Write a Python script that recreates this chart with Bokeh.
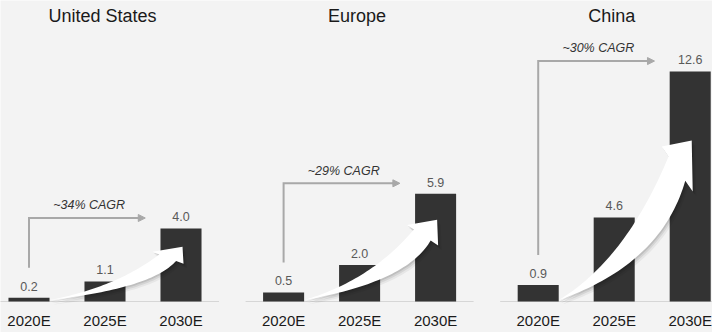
import numpy as np
from bokeh.plotting import figure
from bokeh.models import ColumnDataSource, Range1d, Arrow, NormalHead
from bokeh.core.properties import value
from bokeh.embed import file_html
from bokeh.resources import INLINE

# ---------------- data ----------------
regions = ["United States", "Europe", "China"]
years = ["2020E", "2025E", "2030E"]
us_values = [0.2, 1.1, 4.0]
europe_values = [0.5, 2.0, 5.9]
china_values = [0.9, 4.6, 12.6]
cagr_labels = ["~34% CAGR", "~29% CAGR", "~30% CAGR"]
series = [us_values, europe_values, china_values]

# ---------------- layout / style ----------------
W, H = 712, 332
XU = 76.0          # px per category slot
YU = 18.25         # px per value unit
GROUP_STEP = 3.35  # slots between panels
X0 = -0.375
X1 = X0 + W / XU
BASE_PX = 301
Y0 = -(H - BASE_PX) / YU
Y1 = BASE_PX / YU
BAR_W = 0.54
ARROW_TIP_FRAC = [0.75, 0.76, 0.70]

BG = "#f3f3f3"
BAR = "#333333"
GRAY = "#a8a8a8"
FONT = "Liberation Sans"


def to_px(x, y):
    return (x - X0) * XU, (Y1 - y) * YU


def to_data(px, py):
    return px / XU + X0, Y1 - py / YU


def bezier(p0, c, p2, n=40):
    t = np.linspace(0, 1, n)
    x = (1 - t) ** 2 * p0[0] + 2 * (1 - t) * t * c[0] + t ** 2 * p2[0]
    y = (1 - t) ** 2 * p0[1] + 2 * (1 - t) * t * c[1] + t ** 2 * p2[1]
    return x, y


p = figure(width=W, height=H, x_range=Range1d(X0, X1), y_range=Range1d(Y0, Y1),
           x_axis_type=None, y_axis_type=None, toolbar_location=None,
           output_backend="svg", min_border=0,
           background_fill_color=BG, border_fill_color=BG, outline_line_color=None)
p.grid.visible = False

bar_x, bar_top, bar_lbl = [], [], []
yr_x, yr_t = [], []
for g, vals in enumerate(series):
    xc = [g * GROUP_STEP + i for i in range(len(years))]
    bar_x += xc
    bar_top += vals
    bar_lbl += ["%.1f" % v for v in vals]
    yr_x += xc
    yr_t += years
    # baseline
    p.segment(x0=[xc[0] - 0.5], y0=[0], x1=[xc[-1] + 0.5], y1=[0],
              line_color="#d6d6d6", line_width=1)

src = ColumnDataSource(dict(x=bar_x, top=bar_top, lbl=bar_lbl))
p.vbar(x="x", top="top", bottom=0, width=BAR_W, source=src,
       fill_color=BAR, line_color=None)

for g, vals in enumerate(series):
    xc = [g * GROUP_STEP + i for i in range(len(years))]
    vmax = max(vals)
    # CAGR bracket
    y_bot = vals[0] + 30 / YU
    y_top = vmax + 10.5 / YU
    x_end = xc[-1] - 0.47
    p.line(x=[xc[0], xc[0], x_end - 0.06], y=[y_bot, y_top, y_top],
           line_color=GRAY, line_width=2, line_join="miter")
    p.add_layout(Arrow(end=NormalHead(size=7, fill_color=GRAY, line_color=GRAY, line_width=1),
                       x_start=x_end - 0.1, y_start=y_top, x_end=x_end, y_end=y_top,
                       line_color=GRAY, line_width=2))
    p.text(x=[(xc[0] + x_end) / 2 + 2 / XU], y=[y_top], text=[cagr_labels[g]],
           y_offset=-12.8, text_align="center", text_baseline="middle",
           text_font=value(FONT), text_font_style="italic",
           text_font_size="12.5px", text_color="#333333")

    # white growth arrow (built in pixel space, converted back to data)
    T = np.array(to_px(xc[0] + 0.27, 0.08))
    P = np.array(to_px(xc[-1] + 0.02, ARROW_TIP_FRAC[g] * vmax))
    R = T[1] - P[1]
    Hh = 0.32 * R
    LB = np.array([P[0] - 30, P[1] + 4.5 + 0.03 * Hh])
    RB = np.array([P[0] + 1, P[1] + Hh])
    UJ = LB + 0.22 * (RB - LB)
    LJ = LB + 0.76 * (RB - LB)
    Cu = (T[0] + 0.61 * (UJ[0] - T[0]), T[1] - 0.28 * (T[1] - UJ[1]))
    Cl = (T[0] + 0.81 * (LJ[0] - T[0]), T[1] - 0.30 * (T[1] - LJ[1]))
    ux, uy = bezier(T, Cu, UJ)
    lx, ly = bezier(T, Cl, LJ)
    pxs = list(ux) + [LB[0], P[0], RB[0]] + list(lx[::-1])
    pys = list(uy) + [LB[1], P[1], RB[1]] + list(ly[::-1])
    for (ox, oy, a) in [(3.5, 4.5, 0.05), (2.0, 3.0, 0.08), (1.0, 1.5, 0.10)]:
        sx, sy = to_data(np.array(pxs) + ox, np.array(pys) + oy)
        p.patch(x=list(sx), y=list(sy), fill_color="black", fill_alpha=a, line_color=None)
    dx, dy = to_data(np.array(pxs), np.array(pys))
    p.patch(x=list(dx), y=list(dy), fill_color="white", line_color=None)

    # title
    p.text(x=[xc[1]], y=[Y1], text=[regions[g]], x_offset=-2.5, y_offset=15,
           text_align="center", text_baseline="middle",
           text_font=value(FONT), text_font_size="18px", text_color="#1a1a1a")

p.text(x="x", y="top", text="lbl", source=src, y_offset=-11.8,
       text_align="center", text_baseline="middle",
       text_font=value(FONT), text_font_size="12.5px", text_color="#595959")

p.text(x=yr_x, y=[0] * len(yr_x), text=yr_t, y_offset=18.5,
       text_align="center", text_baseline="middle",
       text_font=value(FONT), text_font_size="15px", text_color="#1a1a1a")

open("out.html", "w").write(file_html(p, INLINE))
